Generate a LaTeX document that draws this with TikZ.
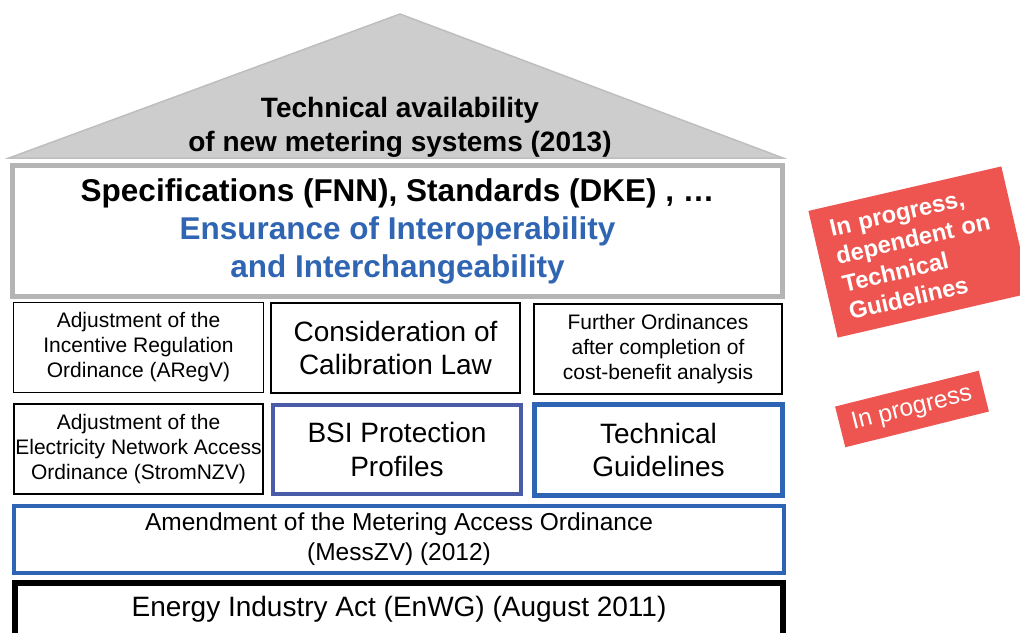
\documentclass[tikz,border=0pt]{standalone}
\usepackage{fontspec}
\setmainfont{Liberation Sans}
\definecolor{roofgray}{RGB}{205,205,205}
\definecolor{roofedge}{RGB}{190,190,190}
\definecolor{specgray}{RGB}{180,180,180}
\definecolor{ensblue}{RGB}{47,101,178}
\definecolor{bsiblue}{RGB}{74,91,168}
\definecolor{tgblue}{RGB}{46,100,180}
\definecolor{progred}{RGB}{239,85,80}
\begin{document}
\begin{tikzpicture}[x=1pt, y=-1pt]
        \tikzstyle{lawbox}=[draw, line width=1.2pt, align=center, inner sep=0pt]
        \tikzstyle{small}=[font=\fontsize{21}{25}\selectfont]
        \tikzstyle{big}=[font=\fontsize{28}{33.5}\selectfont]
        \tikzstyle{note}=[fill=progred, text=white, inner sep=0pt]

        \clip (0,0) rectangle (1020,632);

        % roof
        \draw[fill=roofgray, draw=roofedge, line width=1.5pt] (9,158) -- (400,14) -- (783,158) -- cycle;
        \node[align=center, font=\bfseries\fontsize{28}{33.5}\selectfont](roof) at (400,127.5){Technical availability\\of new metering systems (2013)};

        \node[lawbox, draw=specgray, line width=5pt, minimum width=770, minimum height=131,
              font=\bfseries\fontsize{31.5}{38}\selectfont](spec) at (397.5,231)
              {Specifications (FNN), Standards (DKE) , \dots\\{\color{ensblue}Ensurance of Interoperability}\\{\color{ensblue}and Interchangeability}};

        \node[lawbox, small, minimum width=250, minimum height=90](aregv) at (138.5,347.5){Adjustment of the\\Incentive Regulation\\Ordinance (ARegV)};
        \node[lawbox, big, minimum width=249, minimum height=90](calib) at (395.5,348){Consideration of\\Calibration Law};
        \node[lawbox, small, minimum width=248, minimum height=90](further) at (658,349){Further Ordinances\\after completion of\\cost-benefit analysis};

        \node[lawbox, small, minimum width=249, minimum height=90](stromnzv) at (138.5,449){Adjustment of the\\Electricity Network Access\\Ordinance (StromNZV)};
        \node[lawbox, big, draw=bsiblue, line width=4pt, minimum width=248, minimum height=89](bsi) at (397,449.5){BSI Protection\\Profiles};
        \node[lawbox, big, draw=tgblue, line width=5pt, minimum width=248, minimum height=91](tg) at (658.5,450){Technical\\Guidelines};

        \node[lawbox, draw=tgblue, line width=4.5pt, minimum width=770, minimum height=67,
              font=\fontsize{24.5}{30}\selectfont](messzv) at (399,539.5){Amendment of the Metering Access Ordinance\\(MessZV) (2012)};

        \node[lawbox, line width=6pt, minimum width=768, minimum height=80](enwg) at (399,623){};
        \node[font=\fontsize{28}{33}\selectfont](enwgText) at ([yshift=-29pt]enwg.north){Energy Industry Act (EnWG) (August 2011)};

        % status notes
        \node[note, rotate=13, minimum width=198, minimum height=130, text width=164, inner xsep=17,
              align=left, font=\bfseries\fontsize{23.8}{28.5}\selectfont](noteTG) at (919.5,252)
              {In progress,\\dependent on\\Technical\\Guidelines};
        \node[note, rotate=14, minimum width=148, minimum height=42,
              font=\fontsize{24.6}{29}\selectfont](noteBSI) at (912,409){In progress};

\end{tikzpicture}
\end{document}
